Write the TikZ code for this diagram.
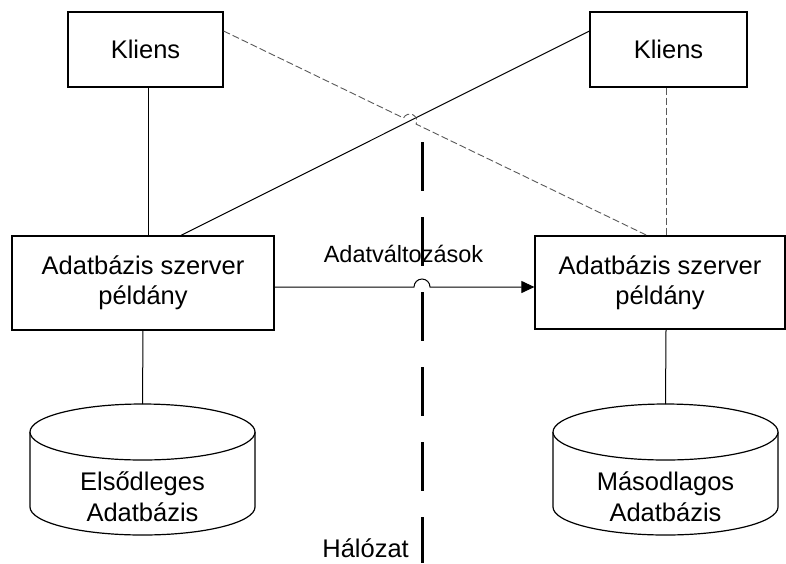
\documentclass[tikz,border=0pt]{standalone}
\usepackage{fontspec}
\setmainfont{Liberation Sans}
\usetikzlibrary{arrows.meta,calc}
\begin{document}
\begin{tikzpicture}[x=1pt,y=-1pt,
  box/.style={draw,line width=1.2pt,rectangle,inner sep=0pt,align=center,font=\fontsize{25.5}{30}\selectfont},
  conn/.style={line width=1pt},
  dconn/.style={line width=0.9pt,draw=black!65,dash pattern=on 7pt off 3pt},
  netline/.style={line width=3pt,dash pattern=on 49pt off 26pt},
  dbtext/.style={align=center,font=\fontsize{25.5}{31}\selectfont,inner sep=0pt}]
\useasboundingbox (0,0) rectangle (786,563);
% boxes
\node[box,minimum width=155pt,minimum height=75pt] (lk) at (145.5,49.5) {Kliens};
\node[box,minimum width=157pt,minimum height=75pt] (rk) at (668.5,49.5) {Kliens};
\node[box,minimum width=262pt,minimum height=94pt] (ls) at (143,283) {Adatbázis szerver\\példány};
\node[box,minimum width=250pt,minimum height=93pt] (rs) at (660,282.5) {Adatbázis szerver\\példány};
% cylinders
\foreach \cx/\nm in {142.5/l,665.5/r}{
  \fill[white] (\cx-112.5,432) -- (\cx-112.5,507) arc[start angle=180,end angle=0,x radius=112.5,y radius=28] -- (\cx+112.5,432) -- cycle;
  \draw[line width=1.2pt] (\cx-112.5,432) -- (\cx-112.5,507) arc[start angle=180,end angle=0,x radius=112.5,y radius=28] -- (\cx+112.5,432);
  \draw[line width=1.2pt,fill=white] (\cx,432) ellipse [x radius=112.5,y radius=28];
  \coordinate (\nm dbtop) at (\cx,404);
}
\node[dbtext] (ldb) at (142.5,497) {Elsődleges\\Adatbázis};
\node[dbtext] (rdb) at (665.5,497) {Másodlagos\\Adatbázis};
% connectors
\draw[conn] ([xshift=2.5pt]lk.south) -- ([xshift=2.5pt]lk.south |- ls.north);
\draw[conn] (ls.south) -- (ldbtop);
\draw[conn] ([xshift=6pt]rs.south) -- (rdbtop);
\draw[dconn] ([xshift=-2.5pt]rk.south) -- ([xshift=-2.5pt]rk.south |- rs.north);
\draw[conn] ([xshift=38pt]ls.north) -- ([yshift=18.5pt]rk.west);
\draw[dconn] ([yshift=18.5pt]lk.east) -- (403.5,118) arc[start angle=205.8,end angle=385.8,radius=7] -- ([xshift=-13pt]rs.north);
% network
\coordinate (nettop) at (422,142);
\coordinate (netbot) at (422,563);
\draw[netline] (nettop) -- (netbot);
\node[anchor=base east,font=\fontsize{25.5}{30}\selectfont,inner sep=0pt] (net) at (409,557) {Hálózat};
% replication arrow
\coordinate (ajs) at (414,287);
\draw[conn,-{Triangle[length=13pt,width=12pt]}] (ls.east |- ajs) -- (ajs) arc[start angle=180,end angle=360,radius=8] -- (rs.west |- ajs);
\node[anchor=base,font=\fontsize{23.5}{28}\selectfont,inner sep=0pt] (lbl) at (403.5,262) {Adatváltozások};
\end{tikzpicture}
\end{document}
